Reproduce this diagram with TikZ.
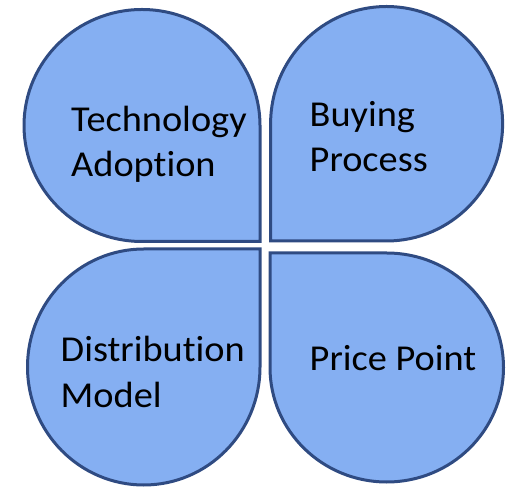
\documentclass[tikz,border=0pt]{standalone}
\usepackage{fontspec}
\setmainfont{Carlito}[Ligatures=NoCommon]
\definecolor{petalfill}{RGB}{133,175,242}
\definecolor{petalline}{RGB}{47,75,130}
\begin{document}
\begin{tikzpicture}[x=1pt,y=1pt,
  petal/.style={fill=petalfill,draw=petalline,line width=3pt,line join=miter},
  label/.style={anchor=base west,inner sep=0pt,align=left,xscale=1.05,
    font=\fontsize{36.5}{45}\selectfont,text=black}]
\useasboundingbox (0,0) rectangle (508,487);
% four quarter-teardrops, square corner towards the middle
\draw[petal] (142,245.5) -- (260,245.5) -- (260,361.5)
  arc[start angle=0,end angle=270,x radius=118,y radius=116] -- cycle;
\draw[petal] (270.7,363.25) -- (270.7,246) -- (386.6,246)
  arc[start angle=-90,end angle=180,x radius=116,y radius=117.25] -- cycle;
\draw[petal] (260,120) -- (260,238) -- (143.75,238)
  arc[start angle=90,end angle=360,x radius=116.25,y radius=118] -- cycle;
\draw[petal] (386.75,234) -- (270,234) -- (270,119.5)
  arc[start angle=180,end angle=450,x radius=116.75,y radius=114.5] -- cycle;
% captions (anchored on the baseline of the last line)
\node[label] (tech) at (71,310) {Technology\\Adoption};
\node[label] (buy) at (309.5,315) {Buying\\Process};
\node[label] (dist) at (60.5,80) {Distribution\\Model};
\node[label] (price) at (309.5,116.5) {Price Point};
\end{tikzpicture}
\end{document}
